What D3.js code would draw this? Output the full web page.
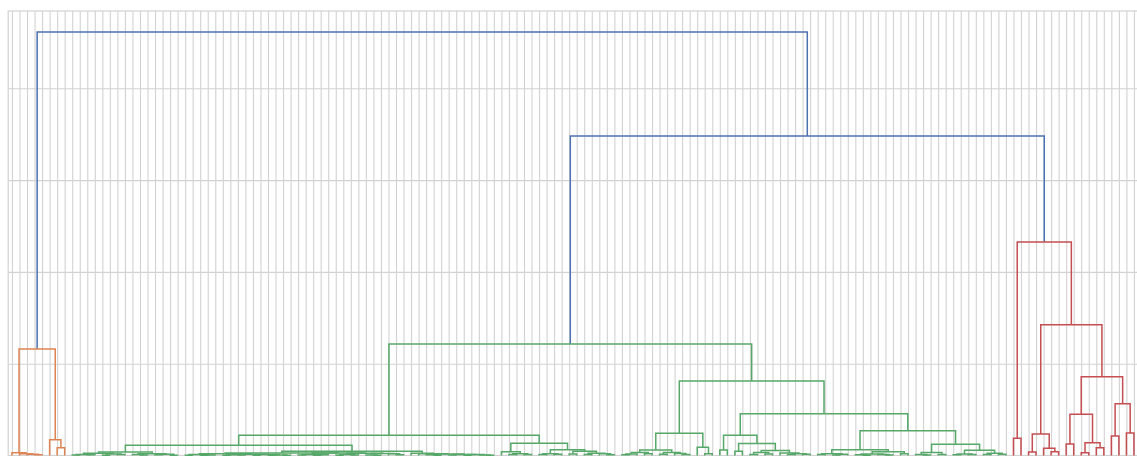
<!DOCTYPE html>
<html><head><meta charset="utf-8">
<script src="https://cdn.jsdelivr.net/npm/d3@7"></script>
<style>html,body{margin:0;padding:0;background:#fff;overflow:hidden} svg{display:block}</style>
</head><body>
<svg id="chart" width="1137" height="456"></svg>
<script>
// ---------- data ----------
const leafCount = 150;
const yTicks = [0, 5, 10, 15, 20];
const yMax = 24.21;
const colorThreshold = 16.15;
const clusterColors = ["#dd8452", "#55a868", "#c44e52"];
const aboveColor = "#4c72b0";

// merges written as [height, left, right]; a bare number is a leaf position
const orangeTree = [5.80, [0.15, 0, [0.10, 1, [0.07, 2, [0.04, 3, 4]]]], [0.86, 5, [0.42, 6, 7]]];

const greenA = [0.19,
  [0.12, [0.06, [0.03, 8, 9], [0.04, 10, 11]], [0.08, [0.02, 12, 13], [0.05, 14, 15]]],
  [0.10, [0.05, 16, [0.03, 17, 18]], [0.07, [0.04, 19, 20], [0.02, 21, 22]]]];
const greenC1a = [0.09, [0.05, [0.02, 23, 24], [0.03, [0.01, 25, 26], 27]],
  [0.07, [0.04, [0.02, 28, 29], [0.03, 30, 31]], [0.05, [0.02, 32, 33], [0.03, [0.01, 34, 35], [0.02, 36, 37]]]]];
const greenC1b = [0.13, [0.06, [0.03, 38, 39], [0.04, [0.02, 40, 41], 42]],
  [0.12, [0.05, [0.02, 43, 44], [0.03, 45, 46]], [0.11, [0.03, 47, [0.02, 48, 49]], [0.10, 50, [0.04, 51, 52]]]]];
const greenC2 = [0.12, 53, [0.10, 54, [0.08, [0.04, 55, [0.02, 56, 57]],
  [0.06, [0.03, 58, 59], [0.05, [0.02, 60, 61], [0.03, 62, [0.01, 63, 64]]]]]]];
const greenD1 = [0.21, 65, [0.10, [0.05, 66, 67], [0.06, 68, 69]]];
const greenD2a = [0.10, [0.05, 70, 71], [0.07, 72, 73]];
const greenD2b = [0.23, [0.08, 74, 75], [0.12, [0.06, 76, 77], [0.09, 78, [0.04, 79, 80]]]];
const greenLeftTree = [1.10,
  [0.56, greenA, [0.23, [0.14, greenC1a, greenC1b], greenC2]],
  [0.67, greenD1, [0.32, greenD2a, greenD2b]]];

const greenE = [1.21,
  [0.30, [0.17, [0.08, [0.04, 81, 82], 83], [0.10, 84, 85]], [0.16, [0.07, 86, 87], [0.11, 88, [0.05, 89, 90]]]],
  [0.45, 91, [0.10, 92, 93]]];
const greenF1 = [1.10, [0.30, 94, 95],
  [0.66, [0.23, 96, 97], [0.27, [0.17, [0.05, 98, 99], [0.08, 100, 101]], [0.13, 102, [0.10, [0.05, 103, 104], [0.07, 105, 106]]]]]];
const greenF2a = [0.32, [0.10, [0.05, 107, 108], [0.07, [0.03, 109, 110], 111]],
  [0.21, [0.08, [0.04, 112, [0.02, 113, 114]], [0.06, 115, [0.03, 116, 117]]], [0.09, 118, 119]]];
const greenF2b = [0.61, [0.17, [0.05, 120, [0.03, 121, 122]], [0.06, 123, 124]],
  [0.28, [0.08, [0.04, 125, 126], [0.05, 127, 128]], [0.12, [0.05, 129, 130], [0.07, 131, 132]]]];
const greenRightTree = [4.06, greenE, [2.28, greenF1, [1.35, greenF2a, greenF2b]]];

const redTree = [11.63, [0.94, 133, 134],
  [7.12, [1.17, [0.19, 135, 136], [0.39, 137, [0.21, 138, 139]]],
    [4.29, [2.24, [0.63, 140, 141], [0.70, [0.15, 142, 143], [0.42, 144, 145]]],
      [2.82, [1.06, 146, 147], [1.23, 148, 149]]]]];

const topHeights = [23.07, 17.40, 6.07]; // root, right branch, green cluster
const rootTree = [topHeights[0], orangeTree, [topHeights[1], [topHeights[2], greenLeftTree, greenRightTree], redTree]];

// ---------- drawing ----------
const W = 1137, H = 456;
const x = d3.scaleLinear().domain([0, 10 * leafCount]).range([8.2, 1137.7]);
const y = d3.scaleLinear().domain([0, yMax]).range([455.5, 11]);
const svg = d3.select("#chart");

const leafPos = d3.range(leafCount).map(i => 5 + 10 * i);

const gx = svg.append("g").attr("transform", `translate(0,${y(0)})`)
  .call(d3.axisBottom(x).tickValues(leafPos).tickSize(-(y(0) - y(yMax))).tickFormat(""));
const gy = svg.append("g").attr("transform", `translate(${x(0)},0)`)
  .call(d3.axisLeft(y).tickValues(yTicks).tickSize(-(x(10 * leafCount) - x(0))).tickFormat(""));
[gx, gy].forEach(g => {
  g.select(".domain").remove();
  g.selectAll(".tick line").attr("stroke", "#d2d2d2").attr("stroke-width", 1.1);
});
svg.append("rect").attr("x", x(0)).attr("y", y(yMax))
  .attr("width", x(10 * leafCount) - x(0)).attr("height", y(0) - y(yMax))
  .attr("fill", "none").attr("stroke", "#d2d2d2").attr("stroke-width", 1.2);

// layout
function layout(n) {
  if (typeof n === "number") return { xd: 5 + 10 * n, h: 0, leaf: n };
  const L = layout(n[1]), R = layout(n[2]);
  return { xd: (L.xd + R.xd) / 2, h: n[0], L, R };
}
const root = layout(rootTree);

// color assignment (scipy-like threshold colouring)
let ci = 0;
function colorize(node, col) {
  if (node.leaf !== undefined) return;
  if (node.h >= colorThreshold) { node.color = aboveColor; colorize(node.L, null); colorize(node.R, null); return; }
  if (col === null) col = clusterColors[ci++ % clusterColors.length];
  node.color = col; colorize(node.L, col); colorize(node.R, col);
}
colorize(root, null);

const links = [];
(function collect(n) { if (n.leaf !== undefined) return; links.push(n); collect(n.L); collect(n.R); })(root);

const lineGen = d3.line().x(d => x(d[0])).y(d => y(d[1]));
svg.append("g").selectAll("path").data(links).join("path")
  .attr("d", n => lineGen([[n.L.xd, n.L.h], [n.L.xd, n.h], [n.R.xd, n.h], [n.R.xd, n.R.h]]))
  .attr("fill", "none").attr("stroke", n => n.color).attr("stroke-width", 1.5)
  .attr("stroke-linejoin", "miter");
</script>
</body></html>
